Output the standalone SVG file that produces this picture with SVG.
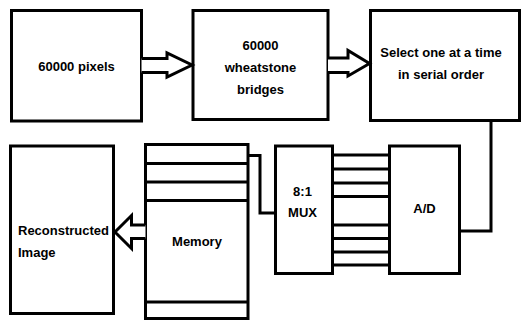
<svg xmlns="http://www.w3.org/2000/svg" width="523" height="320" viewBox="0 0 523 320">
  <style>
    .box { fill: #fff; stroke: #000; stroke-width: 3; }
    .ln { fill: none; stroke: #000; stroke-width: 3; }
    .arr { fill: #fff; stroke: #000; stroke-width: 3; stroke-linejoin: miter; }
    text { font-family: "Liberation Sans", Arial, sans-serif; font-weight: bold; font-size: 13px; fill: #000; }
    .c { text-anchor: middle; }
  </style>
  <rect width="523" height="320" fill="#fff"/>

  <g id="pixels">
    <rect class="box" x="11.5" y="10.5" width="130" height="110.5"/>
    <text class="c" x="76.5" y="71">60000 pixels</text>
  </g>

  <g id="bridges">
    <rect class="box" x="193" y="10.5" width="135" height="109"/>
    <text class="c" x="260.5" y="50">60000</text>
    <text class="c" x="260.5" y="72">wheatstone</text>
    <text class="c" x="260.5" y="94">bridges</text>
  </g>

  <g id="selector">
    <rect class="box" x="370.5" y="10.5" width="149" height="110"/>
    <text class="c" x="441" y="57">Select one at a time</text>
    <text class="c" x="441" y="79">in serial order</text>
  </g>

  <g id="reconstructed">
    <rect class="box" x="10.5" y="146" width="103" height="167.5"/>
    <text x="18" y="235">Reconstructed</text>
    <text x="18" y="257">Image</text>
  </g>

  <g id="memory">
    <rect class="box" x="145.5" y="144.5" width="102.5" height="174"/>
    <line class="ln" x1="145.5" y1="163.5" x2="248" y2="163.5"/>
    <line class="ln" x1="145.5" y1="182" x2="248" y2="182"/>
    <line class="ln" x1="145.5" y1="200.5" x2="248" y2="200.5"/>
    <line class="ln" x1="145.5" y1="302" x2="248" y2="302"/>
    <text class="c" x="197" y="246">Memory</text>
  </g>

  <g id="mux">
    <rect class="box" x="275.5" y="146" width="57" height="127.5"/>
    <text class="c" x="302.5" y="196">8:1</text>
    <text class="c" x="302.5" y="217">MUX</text>
  </g>

  <g id="adc">
    <rect class="box" x="389.5" y="146" width="70" height="127.5"/>
    <text class="c" x="424.5" y="213">A/D</text>
  </g>

  <g id="connectors">
    <!-- block arrows between the top row -->
    <polyline class="arr" points="141.5,58.5 167,58.5 167,53 192,65 167,77 167,72.5 141.5,72.5"/>
    <polyline class="arr" points="328,58 348,58 348,50.5 369.5,63.5 348,76 348,72.5 328,72.5"/>
    <!-- memory to reconstructed image -->
    <polyline class="arr" points="145.5,225 131.5,225 131.5,215.5 115,232 131.5,248.5 131.5,238.5 145.5,238.5"/>
    <!-- selector down to A/D -->
    <polyline class="ln" points="491,120.5 491,231 459.5,231"/>
    <!-- memory to MUX -->
    <polyline class="ln" points="248,155.5 260,155.5 260,213 275.5,213"/>
    <!-- eight lines between MUX and A/D -->
    <g class="ln">
      <line x1="332.5" y1="155" x2="389.5" y2="155"/>
      <line x1="332.5" y1="169" x2="389.5" y2="169"/>
      <line x1="332.5" y1="183" x2="389.5" y2="183"/>
      <line x1="332.5" y1="196.5" x2="389.5" y2="196.5"/>
      <line x1="332.5" y1="225" x2="389.5" y2="225"/>
      <line x1="332.5" y1="238.5" x2="389.5" y2="238.5"/>
      <line x1="332.5" y1="252" x2="389.5" y2="252"/>
      <line x1="332.5" y1="265" x2="389.5" y2="265"/>
    </g>
  </g>
</svg>
